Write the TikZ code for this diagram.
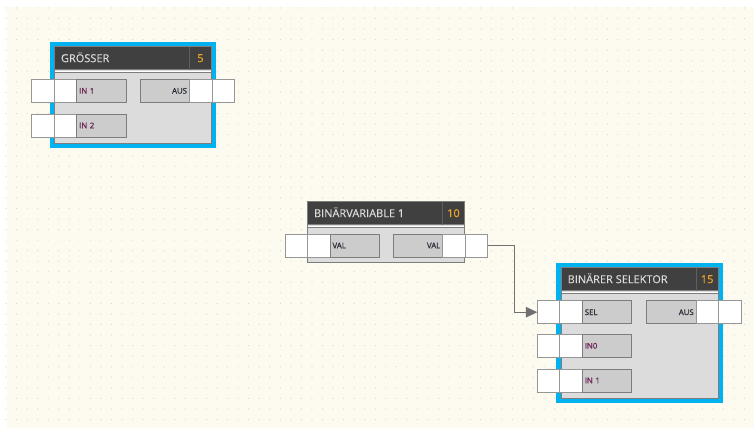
\documentclass[tikz,border=0pt]{standalone}
\usepackage{fontspec}
\setmainfont{Open Sans}
\newfontfamily\prtface[FakeBold=0.7]{Open Sans}
\newfontfamily\blkface[FakeBold=0.3]{Open Sans}
\usepackage{tikz}
\usetikzlibrary{arrows.meta,calc}
\definecolor{cream}{RGB}{253,251,239}
\definecolor{dotgray}{RGB}{216,214,202}
\definecolor{selblue}{RGB}{0,178,240}
\definecolor{titledark}{RGB}{64,64,64}
\definecolor{titletxt}{RGB}{220,220,220}
\definecolor{bodygray}{RGB}{220,220,220}
\definecolor{lblgray}{RGB}{204,204,204}
\definecolor{edgegray}{RGB}{125,125,125}
\definecolor{numorange}{RGB}{240,165,40}
\definecolor{inpurple}{RGB}{105,35,85}
\definecolor{lbltext}{RGB}{40,45,55}
\definecolor{wiregray}{RGB}{112,112,112}
\newcommand{\blkfont}{\blkface\fontsize{11}{13}\selectfont}
\newcommand{\prtfont}{\prtface\fontsize{7.8}{9}\selectfont}
\tikzstyle{blockbody}=[draw=edgegray, line width=1pt, fill=bodygray, minimum width=157pt, inner sep=0pt, outer sep=0pt, anchor=north west]
\tikzstyle{selected}=[preaction={draw=selblue, line width=9.5pt}]
\tikzstyle{blocktitle}=[draw=edgegray, line width=1pt, fill=titledark, minimum width=157pt, minimum height=23pt, inner sep=0pt, outer sep=0pt, anchor=north west]
\tikzstyle{titletext}=[text=titletxt, font=\blkfont, inner sep=0pt, text height=7.9pt, text depth=0pt, anchor=west]
\tikzstyle{blocknum}=[text=numorange, font=\blkfont, minimum width=21.7pt, minimum height=23pt, inner sep=0pt, outer sep=0pt, anchor=north east]
\tikzstyle{sepline}=[draw={rgb,255:red,95;green,95;blue,95}, line width=1pt]
\tikzstyle{portsq}=[draw={rgb,255:red,150;green,150;blue,150}, line width=1pt, fill=white, minimum width=22.5pt, minimum height=23pt, inner sep=0pt, outer sep=0pt]
\tikzstyle{portlbl}=[draw=edgegray, line width=1pt, fill=lblgray, font=\prtfont, text width=44.5pt, minimum height=23pt, inner xsep=2.5pt, inner ysep=0pt, outer sep=0pt, text height=5.6pt, text depth=0pt]
\tikzstyle{wire}=[draw=wiregray, line width=1.3pt, -{Triangle[length=11.5pt,width=10.5pt]}]
\newcommand{\blockBox}[7]{
	\node[blockbody, #1, minimum height=#5] (#2) at (#3,#4) {};
	\node[blocktitle] (#2t) at (#2.north west) {};
	\node[titletext] at ($(#2t.west)+(6.5,0)$) {#6};
	\node[blocknum] (#2n) at (#2t.north east) {#7};
	\draw[sepline] (#2n.north west) -- (#2n.south west);
	\draw[white, line width=1pt] ($(#2t.south west)+(0.5,1.3)$) -- ($(#2t.south east)+(-0.5,1.3)$);
	\draw[edgegray, line width=0.8pt] ($(#2t.south west)+(0.5,2.9)$) -- ($(#2t.south east)+(-0.5,2.9)$);
}
\newcommand{\inPort}[5]{
	\node[portsq, anchor=north west] (#1o) at (#2,#3) {};
	\node[portsq, anchor=west] (#1i) at (#1o.east) {};
	\node[portlbl, anchor=west, align=left, text=#5] (#1) at (#1i.east) {#4};
}
\newcommand{\outPort}[4]{
	\node[portlbl, anchor=north west, align=right, text=lbltext] (#1) at (#2,#3) {#4};
	\node[portsq, anchor=west] (#1i) at (#1.east) {};
	\node[portsq, anchor=west] (#1o) at (#1i.east) {};
}

\begin{document}
\begin{tikzpicture}[x=1pt,y=-1pt]
	\useasboundingbox (0,0) rectangle (754,428);
	\fill[white] (0,0) rectangle (754,428);
	\fill[cream] (7,7) rectangle (754,428);
	\foreach \i in {0,...,70}
		\foreach \j in {0,...,39}
			\fill[dotgray] (6+10.55*\i,8+10.55*\j) circle (0.6);
	\blockBox{selected}{gr}{54.3}{46.7}{96.3pt}{GRÖSSER}{5}
	\inPort{grina}{31.7}{79.3}{IN 1}{inpurple}
	\inPort{grinb}{31.7}{114}{IN 2}{inpurple}
	\outPort{graus}{140}{79.3}{AUS}
	\blockBox{}{bv}{307.3}{201.7}{61pt}{BINÄRVARIABLE 1}{10}
	\inPort{bvin}{285}{234}{VAL}{lbltext}
	\outPort{bvout}{393.3}{234}{VAL}
	\blockBox{selected}{bs}{561}{267.7}{130.6pt}{BINÄRER SELEKTOR}{15}
	\inPort{bssel}{537.3}{300.7}{SEL}{lbltext}
	\inPort{bsina}{537.3}{334.3}{IN0}{inpurple}
	\inPort{bsinb}{537.3}{369}{IN 1}{inpurple}
	\outPort{bsaus}{646.7}{300.7}{AUS}
	\draw[wire] (bvouto.east) -- ++(26.6,0) |- (bsselo.west);
\end{tikzpicture}
\end{document}
